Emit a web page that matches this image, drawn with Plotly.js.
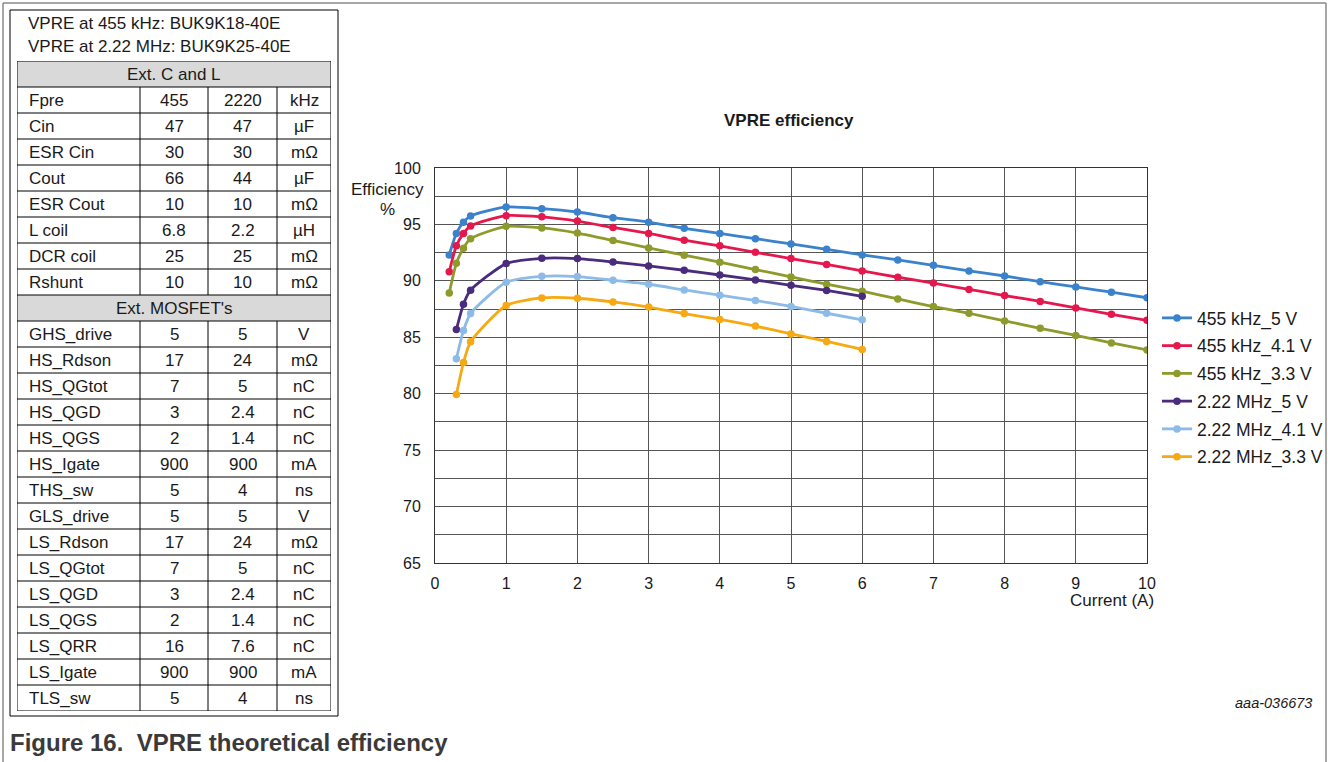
<!DOCTYPE html>
<html>
<head>
<meta charset="utf-8">
<script src="https://cdn.plot.ly/plotly-3.0.1.min.js"></script>
<style>
html,body{margin:0;padding:0;background:#fff;}
#chart{width:1328px;height:762px;}
</style>
</head>
<body>
<div id="chart"></div>
<script>
// ---------------- Data ----------------
const current455 = [0.2,0.3,0.4,0.5,1,1.5,2,2.5,3,3.5,4,4.5,5,5.5,6,6.5,7,7.5,8,8.5,9,9.5,10];
const current222 = [0.3,0.4,0.5,1,1.5,2,2.5,3,3.5,4,4.5,5,5.5,6];

const eff455_5V  = [92.3,94.2,95.2,95.75,96.55,96.4,96.1,95.6,95.2,94.66,94.2,93.74,93.27,92.8,92.3,91.85,91.38,90.88,90.43,89.93,89.46,89.0,88.5];
const eff455_41V = [90.8,93.1,94.2,94.86,95.78,95.67,95.3,94.73,94.2,93.6,93.1,92.53,91.97,91.45,90.88,90.32,89.8,89.24,88.7,88.18,87.6,87.04,86.5];
const eff455_33V = [88.93,91.55,92.9,93.74,94.83,94.69,94.24,93.58,92.92,92.27,91.65,91.0,90.35,89.7,89.08,88.4,87.72,87.13,86.45,85.8,85.16,84.5,83.88];
const eff222_5V  = [85.68,87.93,89.17,91.53,92.0,91.97,91.67,91.32,90.94,90.52,90.08,89.6,89.15,88.63];
const eff222_41V = [83.09,85.6,87.1,89.87,90.4,90.38,90.05,89.7,89.2,88.73,88.26,87.73,87.13,86.55];
const eff222_33V = [79.93,82.76,84.6,87.82,88.49,88.46,88.13,87.68,87.1,86.58,85.99,85.3,84.63,83.92];

const seriesNames = ["455 kHz_5 V","455 kHz_4.1 V","455 kHz_3.3 V","2.22 MHz_5 V","2.22 MHz_4.1 V","2.22 MHz_3.3 V"];

const chartTitle = "VPRE efficiency";
const yTitleLines = ["Efficiency","%"];
const xTitle = "Current (A)";

// table data
const tableNotes = ["VPRE at 455 kHz: BUK9K18-40E","VPRE at 2.22 MHz: BUK9K25-40E"];
const sectionTitles = ["Ext. C and L","Ext. MOSFET's"];
const sectionStarts = [0, 8];
const paramNames = ["Fpre","Cin","ESR Cin","Cout","ESR Cout","L coil","DCR coil","Rshunt",
  "GHS_drive","HS_Rdson","HS_QGtot","HS_QGD","HS_QGS","HS_Igate","THS_sw",
  "GLS_drive","LS_Rdson","LS_QGtot","LS_QGD","LS_QGS","LS_QRR","LS_Igate","TLS_sw"];
const values455 = ["455","47","30","66","10","6.8","25","10",
  "5","17","7","3","2","900","5",
  "5","17","7","3","2","16","900","5"];
const values2220 = ["2220","47","30","44","10","2.2","25","10",
  "5","24","5","2.4","1.4","900","4",
  "5","24","5","2.4","1.4","7.6","900","4"];
const units = ["kHz","µF","mΩ","µF","mΩ","µH","mΩ","mΩ",
  "V","mΩ","nC","nC","nC","mA","ns",
  "V","mΩ","nC","nC","nC","nC","mA","ns"];

const captionText = "Figure 16.  VPRE theoretical efficiency";
const docId = "aaa-036673";

// ---------------- Style ----------------
const W = 1328, H = 762;
const FONT = "Liberation Sans, Arial, Helvetica, sans-serif";
const colors = ["#3b82cc","#e5184d","#8e9a2b","#4a2b7c","#8dbbe7","#f6a912"];
const px = v => v / W;
const py = v => 1 - v / H;

// main plot area in pixels
const plotL = 435, plotR = 1147, plotT = 168, plotB = 563;
// table grid in pixels
const tabL = 17, tabR = 331, tabT = 61, tabB = 711;
const colWidths = [123, 68, 69, 54];
const TXT = 17;

// ---------------- Traces ----------------
const xs = [current455,current455,current455,current222,current222,current222];
const ys = [eff455_5V,eff455_41V,eff455_33V,eff222_5V,eff222_41V,eff222_33V];
const traces = seriesNames.map((n,i)=>({
  type:"scatter", mode:"lines+markers", name:n,
  x: xs[i], y: ys[i],
  line:{color:colors[i], width:2.8, shape:"spline", smoothing:0.6},
  marker:{color:colors[i], size:7.5},
  legendgroup:"g"+i,
  xaxis:"x", yaxis:"y", hoverinfo:"x+y+name"
}));

// ---------------- Table (on its own axes) ----------------
const shapes = [];
const annotations = [];
const rows = [];
for (let s = 0; s < sectionTitles.length; s++) {
  rows.push({type:"section", text:sectionTitles[s]});
  const end = (s+1 < sectionStarts.length) ? sectionStarts[s+1] : paramNames.length;
  for (let k = sectionStarts[s]; k < end; k++) {
    rows.push({type:"row", cells:[paramNames[k], values455[k], values2220[k], units[k]]});
  }
}
const nRows = rows.length;
const colEdges = [0];
colWidths.forEach(w => colEdges.push(colEdges[colEdges.length-1] + w));
const tabW = colEdges[colEdges.length-1];

rows.forEach((r, i) => {
  if (r.type === "section") {
    shapes.push({type:"rect", xref:"x2", yref:"y2", x0:0, x1:tabW, y0:i, y1:i+1,
      fillcolor:"#d9d9d9", line:{width:0}, layer:"below"});
    annotations.push({xref:"x2", yref:"y2", x:tabW/2, y:i+0.5, text:r.text, showarrow:false,
      font:{family:FONT, size:TXT, color:"#1a1a1a"}, xanchor:"center", yanchor:"middle"});
  } else {
    r.cells.forEach((c, j) => {
      const left = j === 0;
      annotations.push({xref:"x2", yref:"y2",
        x: left ? colEdges[0] + 10 : (colEdges[j] + colEdges[j+1]) / 2,
        y: i + 0.5, text: c, showarrow:false,
        font:{family:FONT, size:TXT, color:"#1a1a1a"},
        xanchor: left ? "left" : "center", yanchor:"middle"});
    });
    for (let j = 1; j < colEdges.length - 1; j++) {
      shapes.push({type:"line", xref:"x2", yref:"y2", x0:colEdges[j], x1:colEdges[j], y0:i, y1:i+1,
        line:{color:"#000", width:1}});
    }
  }
  shapes.push({type:"line", xref:"x2", yref:"y2", x0:0, x1:tabW, y0:i, y1:i,
    line:{color:"#000", width:1}});
});
shapes.push({type:"line", xref:"x2", yref:"y2", x0:0, x1:tabW, y0:nRows, y1:nRows, line:{color:"#000", width:1}});
shapes.push({type:"line", xref:"x2", yref:"y2", x0:0, x1:0, y0:0, y1:nRows, line:{color:"#000", width:1}});
shapes.push({type:"line", xref:"x2", yref:"y2", x0:tabW, x1:tabW, y0:0, y1:nRows, line:{color:"#000", width:1}});

// outer table box
shapes.push({type:"rect", xref:"paper", yref:"paper", x0:px(10), x1:px(338), y0:py(10), y1:py(716),
  line:{color:"#000", width:1}, fillcolor:"rgba(0,0,0,0)"});
// outer figure frame (top, left, right)
shapes.push({type:"line", xref:"paper", yref:"paper", x0:px(3), x1:px(1326), y0:py(3), y1:py(3), line:{color:"#8a8a8a", width:1.5}});
shapes.push({type:"line", xref:"paper", yref:"paper", x0:px(3), x1:px(3), y0:py(3), y1:py(762), line:{color:"#8a8a8a", width:1.5}});
shapes.push({type:"line", xref:"paper", yref:"paper", x0:px(1326), x1:px(1326), y0:py(3), y1:py(762), line:{color:"#8a8a8a", width:1.5}});

// table notes
tableNotes.forEach((t, i) => {
  annotations.push({xref:"paper", yref:"paper", x:px(26), y:py(23 + i*23), text:t, showarrow:false,
    xanchor:"left", yanchor:"middle", font:{family:FONT, size:TXT, color:"#1a1a1a"}});
});

// chart texts
annotations.push({xref:"paper", yref:"paper", x:px(789), y:py(121), text:"<b>"+chartTitle+"</b>", showarrow:false,
  xanchor:"center", yanchor:"middle", font:{family:FONT, size:17, color:"#1a1a1a"}});
annotations.push({xref:"paper", yref:"paper", x:px(387), y:py(189), text:yTitleLines[0], showarrow:false,
  xanchor:"center", yanchor:"middle", font:{family:FONT, size:17, color:"#1a1a1a"}});
annotations.push({xref:"paper", yref:"paper", x:px(387), y:py(210), text:yTitleLines[1], showarrow:false,
  xanchor:"center", yanchor:"middle", font:{family:FONT, size:17, color:"#1a1a1a"}});
annotations.push({xref:"paper", yref:"paper", x:px(1156), y:py(600), text:xTitle, showarrow:false,
  xanchor:"right", yanchor:"middle", font:{family:FONT, size:17, color:"#1a1a1a"}});
annotations.push({xref:"paper", yref:"paper", x:px(1314), y:py(703), text:"<i>"+docId+"</i>", showarrow:false,
  xanchor:"right", yanchor:"middle", font:{family:FONT, size:14.5, color:"#1a1a1a"}});
annotations.push({xref:"paper", yref:"paper", x:px(8), y:py(742), text:"<b>"+captionText+"</b>", showarrow:false,
  xanchor:"left", yanchor:"middle", font:{family:FONT, size:24, color:"#3a3a3a"}});

const layout = {
  width: W, height: H,
  margin:{l:0, r:0, t:0, b:0},
  paper_bgcolor:"#fff", plot_bgcolor:"#fff",
  font:{family:FONT, color:"#1a1a1a"},
  showlegend:true,
  legend:{x:px(1157), y:py(300), xanchor:"left", yanchor:"top",
    font:{family:FONT, size:17.5, color:"#1a1a1a"}, tracegroupgap:2, bgcolor:"rgba(0,0,0,0)"},
  xaxis:{domain:[px(plotL), px(plotR)], range:[0,10], dtick:1, tick0:0,
    showgrid:true, gridcolor:"#555", gridwidth:1,
    showline:true, linecolor:"#333", linewidth:1, mirror:true,
    zeroline:false, ticks:"", ticklabelstandoff:6,
    tickfont:{family:FONT, size:16, color:"#1a1a1a"}, fixedrange:true},
  yaxis:{domain:[py(plotB), py(plotT)], range:[65,100], dtick:5, tick0:65,
    showgrid:true, gridcolor:"#555", gridwidth:1,
    minor:{dtick:2.5, showgrid:true, gridcolor:"#555", gridwidth:1},
    showline:true, linecolor:"#333", linewidth:1, mirror:true,
    zeroline:false, ticks:"", ticklabelstandoff:10,
    tickfont:{family:FONT, size:16, color:"#1a1a1a"}, fixedrange:true},
  xaxis2:{domain:[px(tabL), px(tabR)], range:[0, tabW], visible:false, fixedrange:true, anchor:"y2"},
  yaxis2:{domain:[py(tabB), py(tabT)], range:[nRows, 0], visible:false, fixedrange:true, anchor:"x2"},
  shapes: shapes,
  annotations: annotations
};

Plotly.newPlot("chart", traces, layout, {displayModeBar:false});
</script>
</body>
</html>
